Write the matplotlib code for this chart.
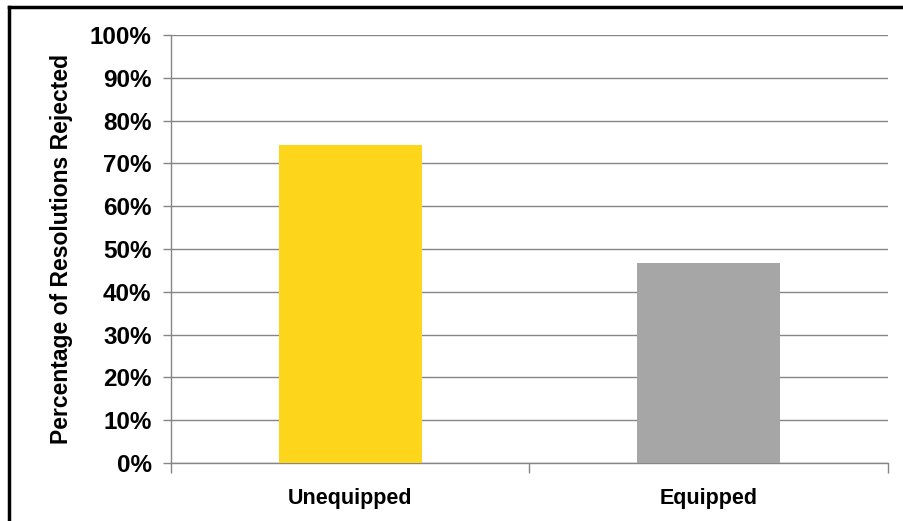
import numpy as np
import matplotlib.pyplot as plt
from matplotlib.lines import Line2D
from matplotlib.ticker import FuncFormatter

kategorije = ['Unequipped', 'Equipped']
postotci = [74.3, 46.7]
boje = ['#FDD51B', '#A6A6A6']
y_oznake = list(range(0, 101, 10))

plt.rcParams['font.family'] = ['Liberation Sans', 'DejaVu Sans']

fig = plt.figure(figsize=(9.04, 5.21), dpi=100)
ax = fig.add_axes([171 / 904, 1 - 463 / 521, (888 - 171) / 904, (463 - 35) / 521])

x = np.arange(len(kategorije))
ax.bar(x, postotci, width=0.4, color=boje, zorder=3)

ax.set_xlim(-0.5, 1.5)
ax.set_ylim(0, 100)
ax.set_yticks(y_oznake)
ax.yaxis.set_major_formatter(FuncFormatter(lambda v, p: f'{v:.0f}%'))
ax.yaxis.grid(True, color='#868686', linewidth=1, zorder=0)

# kategorije ispod osi, kvacice na granicama
ax.set_xticks([-0.5, 0.5, 1.5])
ax.set_xticklabels([])
ax.set_xticks(x, minor=True)
ax.set_xticklabels(kategorije, minor=True, fontsize=15.5, fontweight='bold')
ax.tick_params(axis='x', which='minor', length=0, pad=18)
ax.tick_params(axis='x', which='major', length=7, width=1, color='#868686', direction='out')
ax.tick_params(axis='y', length=6, width=1, color='#868686', labelsize=17.5, pad=8)
for lab in ax.get_yticklabels():
    lab.set_fontweight('bold')

for s in ['top', 'right']:
    ax.spines[s].set_visible(False)
for s in ['left', 'bottom']:
    ax.spines[s].set_color('#868686')
    ax.spines[s].set_linewidth(1)

ax.set_ylabel('Percentage of Resolutions Rejected', fontsize=16.5, fontweight='bold', labelpad=12)

# okvir slike (samo gore i lijevo)
fig.add_artist(Line2D([9 / 904, 9 / 904], [0, 1 - 7 / 521], transform=fig.transFigure,
                      color='black', linewidth=2.5))
fig.add_artist(Line2D([9 / 904, 1], [1 - 7 / 521, 1 - 7 / 521], transform=fig.transFigure,
                      color='black', linewidth=2.5))

fig.savefig('out.png', dpi=100)
